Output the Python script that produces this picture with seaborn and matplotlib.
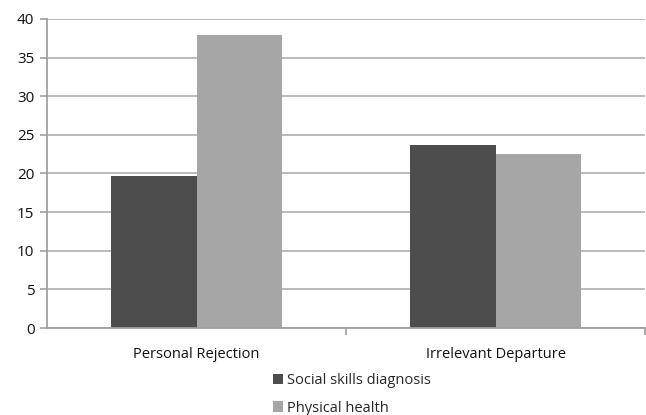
import matplotlib
matplotlib.use("Agg")
import matplotlib.pyplot as plt
import seaborn as sns
import pandas as pd

categories = ["Personal Rejection", "Irrelevant Departure"]
series_names = ["Social skills diagnosis", "Physical health"]
social_skills = [19.7, 23.7]
physical_health = [37.9, 22.5]

df = pd.DataFrame({
    "category": categories * 2,
    "group": [series_names[0]] * 2 + [series_names[1]] * 2,
    "value": social_skills + physical_health,
})

sns.set_style("white")
plt.rcParams["font.family"] = ["Open Sans", "DejaVu Sans"]

fig = plt.figure(figsize=(6.46, 4.15), dpi=100)
ax = fig.add_axes([47 / 646, 87 / 415, 598 / 646, 309 / 415])

sns.barplot(data=df, x="category", y="value", hue="group",
            palette=["#4d4d4d", "#a6a6a6"], width=0.57, gap=0,
            saturation=1, linewidth=0, ax=ax, legend=True)

ax.set_ylim(0, 40)
ax.set_yticks(range(0, 41, 5))
ax.set_xlim(-0.5, 1.5)
ax.set_xlabel("")
ax.set_ylabel("")
ax.yaxis.grid(True, color="#b5b5b5", linewidth=1.3)
ax.set_axisbelow(True)
for s in ["top", "right"]:
    ax.spines[s].set_visible(False)
for s in ["left", "bottom"]:
    ax.spines[s].set_color("#a0a0a0")
    ax.spines[s].set_linewidth(1.3)

ax.set_xticks([0.5, 1.5], minor=False)
ax.set_xticklabels(["", ""])
ax.set_xticks([0, 1], minor=True)
ax.set_xticklabels(categories, minor=True)
ax.tick_params(axis="x", which="major", length=5, color="#a0a0a0", width=1.2, direction="out", bottom=True)
ax.tick_params(axis="x", which="minor", length=0, pad=14, labelsize=10.5, labelcolor="#111111")
ax.tick_params(axis="y", length=5, color="#a0a0a0", width=1.2, direction="out", left=True, pad=4, labelsize=11, labelcolor="#111111")

handles, labels = ax.get_legend_handles_labels()
ax.get_legend().remove()
fig.legend(handles, labels, loc="upper center", bbox_to_anchor=(352 / 646, 1 - 366 / 415),
           frameon=False, ncol=1, fontsize=10.5, handlelength=0.7, handleheight=0.7,
           handletextpad=0.3, labelspacing=0.85, borderpad=0)

fig.savefig("out.png", dpi=100, facecolor="white")
